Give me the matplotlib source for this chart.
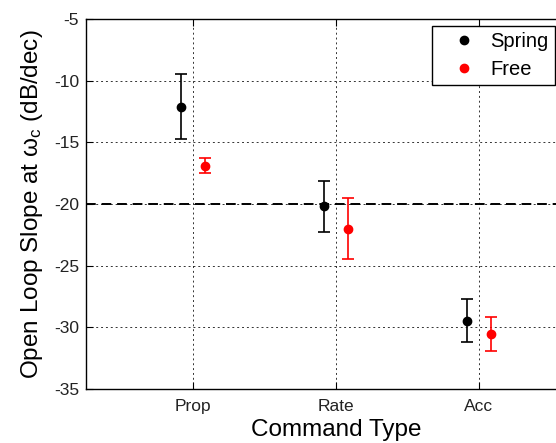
import numpy as np
import matplotlib
matplotlib.use("Agg")
import matplotlib.pyplot as plt
from matplotlib.lines import Line2D

plt.rcParams['font.family'] = ['Liberation Sans', 'DejaVu Sans']
plt.rcParams['mathtext.fontset'] = 'custom'
plt.rcParams['mathtext.rm'] = 'Liberation Sans'
plt.rcParams['mathtext.it'] = 'Liberation Sans:italic'
plt.rcParams['axes.unicode_minus'] = False

# datos
categories = ["Prop", "Rate", "Acc"]
spring_mean = [-12.1, -20.2, -29.45]
spring_err = [2.65, 2.1, 1.75]
free_mean = [-16.9, -22.0, -30.55]
free_err = [0.6, 2.45, 1.4]
reference_slope = -20

x = np.arange(1, len(categories) + 1)
offset = 0.085

fig = plt.figure(figsize=(5.56, 4.43), dpi=100)
# el eje se sale por la derecha, como en la original
ax = fig.add_axes([86 / 556, 1 - 389 / 443, (586 - 86) / 556, (389 - 19) / 443])

ax.axhline(reference_slope, color="black", linestyle=(0, (5, 3)), linewidth=1.4, zorder=1)

ax.errorbar(x - offset, spring_mean, yerr=spring_err, fmt="o", color="black",
            markersize=6, capsize=4.5, elinewidth=1.2, capthick=1.2, zorder=3)
ax.errorbar(x + offset, free_mean, yerr=free_err, fmt="o", color="red",
            markersize=6, capsize=4.5, elinewidth=1.2, capthick=1.2, zorder=3)

ax.set_xlim(0.25, 3.75)
ax.set_ylim(-35, -5)
ax.set_xticks(x)
ax.set_xticklabels(categories)
ax.set_yticks(np.arange(-35, -4, 5))
ax.grid(True, color="black", linestyle=(0, (2, 3)), linewidth=0.7, alpha=0.8)
ax.set_axisbelow(True)
ax.tick_params(direction="in", top=True, right=True, labelsize=12.5, length=5,
               labelcolor="#222222", pad=5)
ax.tick_params(axis="x", pad=7)

for s in ax.spines.values():
    s.set_linewidth(1.0)

ax.set_xlabel("Command Type", fontsize=17.5, labelpad=4)
ax.set_ylabel(r"Open Loop Slope at $\mathregular{\omega_c}$ (dB/dec)", fontsize=17.5, labelpad=6)

handles = [Line2D([], [], marker="o", color="black", linestyle="none", markersize=6),
           Line2D([], [], marker="o", color="red", linestyle="none", markersize=6)]
leg = ax.legend(handles, ["Spring", "Free"], loc="upper left",
                bbox_to_anchor=(432 / 556, 1 - 26 / 443),
                bbox_transform=fig.transFigure, fontsize=14.5, frameon=True,
                fancybox=False, edgecolor="black", framealpha=1,
                handletextpad=0.0, borderpad=0.3, labelspacing=0.45,
                handlelength=2.6, borderaxespad=0)
leg.get_frame().set_linewidth(1.0)

fig.savefig("out.png", dpi=100)
